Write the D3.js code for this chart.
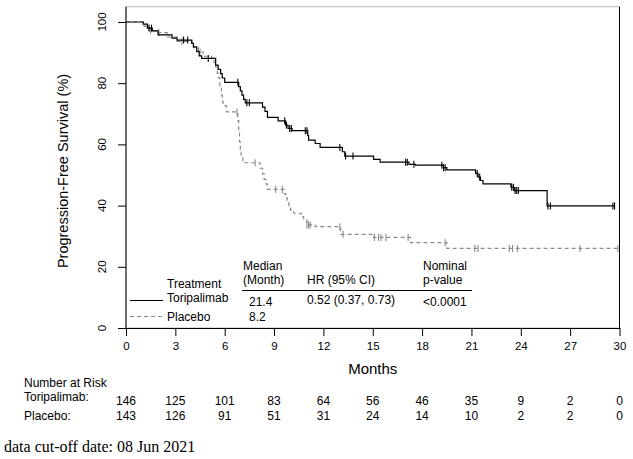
<!DOCTYPE html>
<html>
<head>
<meta charset="utf-8">
<script src="https://cdn.jsdelivr.net/npm/d3@7"></script>
<style>
  body { margin: 0; background: #fff; }
  svg { font-family: 'Liberation Sans', Arial, sans-serif; }
</style>
</head>
<body>
<svg class="km-chart" width="633" height="459"></svg>
<script>
const xTicks = [0, 3, 6, 9, 12, 15, 18, 21, 24, 27, 30];
const yTicks = [0, 20, 40, 60, 80, 100];

const toriTime = [0, 1.05, 1.3, 1.6, 1.95, 2.8, 3.1, 4.0, 4.1, 4.3, 4.45, 4.6, 5.45, 5.6, 5.75, 5.85, 6.0, 6.85, 6.95, 7.05, 7.15, 7.25, 8.3, 8.45, 8.6, 9.25, 9.7, 9.85, 10.1, 11.05, 11.1, 11.5, 11.8, 13.15, 13.3, 15.05, 15.45, 17.2, 17.6, 19.3, 19.5, 21.25, 21.4, 21.55, 21.7, 23.4, 23.6, 25.6, 29.7];
const toriSurv = [100, 99.3, 98.0, 97.1, 95.8, 94.7, 94.1, 93.0, 91.9, 90.3, 88.9, 88.1, 85.9, 84.5, 83.1, 81.7, 80.3, 78.9, 77.5, 76.1, 74.7, 73.6, 72.2, 70.8, 68.8, 67.7, 66.3, 65.2, 64.5, 62.9, 61.4, 60.3, 59.0, 57.6, 56.2, 55.1, 54.2, 53.5, 53.2, 52.4, 51.7, 50.5, 49.3, 48.2, 47.1, 46.0, 44.9, 39.9, 39.9];
const toriCens = [1.4, 1.55, 3.5, 3.75, 5.0, 6.8, 7.35, 7.5, 9.65, 9.75, 9.95, 10.05, 10.9, 11.0, 13.0, 13.35, 13.8, 17.0, 17.1, 17.5, 19.2, 19.3, 19.4, 21.35, 21.5, 23.45, 23.55, 23.65, 23.75, 23.85, 25.65, 25.8, 29.6, 29.7];

const placTime = [0, 1.1, 1.4, 1.8, 2.5, 3.1, 4.0, 4.1, 4.4, 4.7, 5.2, 5.35, 5.45, 5.55, 5.6, 5.7, 5.8, 5.85, 5.9, 6.1, 6.8, 6.85, 6.9, 6.95, 7.0, 7.1, 8.15, 8.3, 8.4, 8.5, 8.6, 9.6, 9.7, 9.8, 9.9, 10.0, 10.2, 10.65, 10.8, 11.0, 11.5, 13.05, 15.05, 17.3, 19.5, 29.9];
const placSurv = [100, 98.6, 97.2, 96.5, 95.1, 93.7, 93.0, 91.6, 90.2, 88.8, 88.1, 86.7, 85.3, 83.2, 81.8, 79.0, 76.2, 74.1, 72.7, 70.6, 67.8, 64.3, 60.8, 58.0, 55.9, 54.0, 52.2, 50.4, 48.6, 47.1, 45.3, 43.9, 42.5, 41.0, 39.6, 38.5, 37.5, 36.4, 35.3, 33.7, 33.1, 30.6, 29.6, 27.9, 26.0, 26.0];
const placCens = [1.5, 2.0, 3.4, 4.5, 6.75, 7.85, 9.1, 9.5, 11.0, 11.1, 11.2, 13.0, 13.2, 15.1, 15.35, 15.5, 15.8, 17.15, 19.4, 21.2, 21.4, 23.3, 23.5, 23.8, 27.6, 29.9];

const toriRisk = [146, 125, 101, 83, 64, 56, 46, 35, 9, 2, 0];
const placRisk = [143, 126, 91, 51, 31, 24, 14, 10, 2, 2, 0];

const chart = d3.select('.km-chart');

const xScale = d3.scaleLinear().domain([0, 30]).range([126, 619.5]);
const yScale = d3.scaleLinear().domain([0, 100]).range([328, 22]);

// step lookup so the censor ticks sit on the curve
const survAt = (times, surv, t) => {
  let s = surv[0];
  for (let i = 0; i < times.length; i++) {
    if (times[i] <= t) s = surv[i];
  }
  return s;
};

/*
 ** Box + axes
 */
chart.append('rect')
  .attr('x', xScale(0))
  .attr('y', yScale(105))
  .attr('width', xScale(30) - xScale(0))
  .attr('height', yScale(0) - yScale(105))
  .attr('fill', 'none')
  .attr('stroke', '#bbb')
  .attr('stroke-width', 1);

chart.append('line')
  .attr('x1', xScale(30)).attr('x2', xScale(30))
  .attr('y1', yScale(105)).attr('y2', yScale(0))
  .attr('stroke', '#000');

const xAxis = chart.append('g')
  .attr('transform', `translate(0, ${yScale(0)})`)
  .call(d3.axisBottom(xScale).tickValues(xTicks).tickSize(8).tickPadding(6).tickSizeOuter(0));
xAxis.select('.domain').attr('stroke', '#000');
xAxis.selectAll('text').attr('font-size', '11.5px').attr('fill', '#000').attr('font-family', 'Liberation Sans, Arial, sans-serif');

const yAxis = chart.append('g')
  .attr('transform', `translate(${xScale(0)}, 0)`)
  .call(d3.axisLeft(yScale).tickValues(yTicks).tickSize(8).tickSizeOuter(0).tickFormat(() => ''));
yAxis.select('.domain').attr('d', `M0,${yScale(105)}V${yScale(0)}`).attr('stroke', '#000');

chart.append('g')
  .selectAll('text.y-tick')
  .data(yTicks)
  .enter()
  .append('text')
  .attr('class', 'y-tick')
  .attr('transform', d => `translate(106, ${yScale(d)}) rotate(-90)`)
  .attr('text-anchor', 'middle')
  .attr('font-size', '11.5px')
  .text(d => d);

chart.append('text')
  .attr('transform', 'translate(68, 171) rotate(-90)')
  .attr('text-anchor', 'middle')
  .attr('font-size', '14.5px')
  .text('Progression-Free Survival (%)');

chart.append('text')
  .attr('x', xScale(15))
  .attr('y', 374)
  .attr('text-anchor', 'middle')
  .attr('font-size', '15px')
  .text('Months');

/*
 ** Curves
 */
const stepLine = d3.line()
  .x(d => xScale(d[0]))
  .y(d => yScale(d[1]))
  .curve(d3.curveStepAfter);

const series = [
  { time: placTime, surv: placSurv, cens: placCens, color: '#8a8a8a', dash: '4,3', width: 1.2 },
  { time: toriTime, surv: toriSurv, cens: toriCens, color: '#000', dash: null, width: 1.2 }
];

series.forEach(s => {
  chart.append('path')
    .attr('d', stepLine(s.time.map((t, i) => [t, s.surv[i]])))
    .attr('fill', 'none')
    .attr('stroke', s.color)
    .attr('stroke-width', s.width)
    .attr('stroke-dasharray', s.dash);

  chart.append('g')
    .selectAll('line')
    .data(s.cens)
    .enter()
    .append('line')
    .attr('x1', d => xScale(d))
    .attr('x2', d => xScale(d))
    .attr('y1', d => yScale(survAt(s.time, s.surv, d)) - 3.5)
    .attr('y2', d => yScale(survAt(s.time, s.surv, d)) + 3.5)
    .attr('stroke', s.color)
    .attr('stroke-width', 1.1);
});

/*
 ** Legend table
 */
const legend = chart.append('g').attr('font-size', '12px');
const legendText = [
  ['Median', 243, 270], ['(Month)', 243, 284], ['HR (95% CI)', 307, 284],
  ['Nominal', 423, 270], ['p-value', 423, 284], ['Treatment', 167, 288],
  ['Toripalimab', 167, 302], ['21.4', 249, 306], ['0.52 (0.37, 0.73)', 307, 304],
  ['<0.0001', 423, 306], ['Placebo', 167, 321], ['8.2', 249, 321]
];
legend.selectAll('text')
  .data(legendText)
  .enter()
  .append('text')
  .attr('x', d => d[1])
  .attr('y', d => d[2])
  .text(d => d[0]);

legend.append('line')
  .attr('x1', 242).attr('x2', 472).attr('y1', 290.5).attr('y2', 290.5)
  .attr('stroke', '#000').attr('stroke-width', 1.2);
legend.append('line')
  .attr('x1', 130).attr('x2', 163).attr('y1', 300.5).attr('y2', 300.5)
  .attr('stroke', '#000').attr('stroke-width', 1.2);
legend.append('line')
  .attr('x1', 130).attr('x2', 163).attr('y1', 316.5).attr('y2', 316.5)
  .attr('stroke', '#8a8a8a').attr('stroke-width', 1.2).attr('stroke-dasharray', '4,3');

/*
 ** Number at risk
 */
const risk = chart.append('g').attr('font-size', '12px');
risk.append('text').attr('x', 24).attr('y', 387).text('Number at Risk');
risk.append('text').attr('x', 24).attr('y', 401).text('Toripalimab:');
risk.append('text').attr('x', 24).attr('y', 420).text('Placebo:');

risk.selectAll('text.tori-risk')
  .data(toriRisk)
  .enter()
  .append('text')
  .attr('class', 'tori-risk')
  .attr('x', (d, i) => xScale(xTicks[i]))
  .attr('y', 405)
  .attr('text-anchor', 'middle')
  .text(d => d);

risk.selectAll('text.plac-risk')
  .data(placRisk)
  .enter()
  .append('text')
  .attr('class', 'plac-risk')
  .attr('x', (d, i) => xScale(xTicks[i]))
  .attr('y', 420)
  .attr('text-anchor', 'middle')
  .text(d => d);

chart.append('text')
  .attr('x', 4)
  .attr('y', 452)
  .attr('font-family', 'Liberation Serif, Times New Roman, serif')
  .attr('font-size', '16px')
  .text('data cut-off date: 08 Jun 2021');
</script>
</body>
</html>
